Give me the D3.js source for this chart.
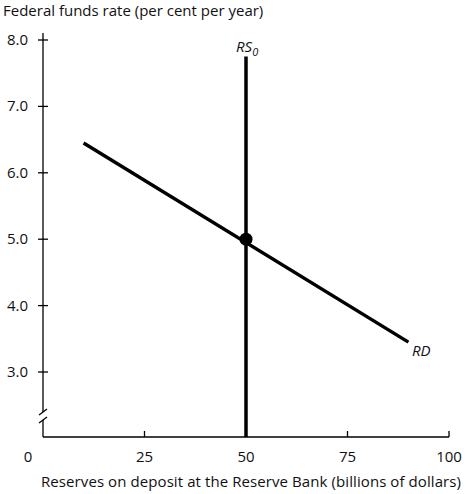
<!DOCTYPE html>
<html>
<head>
<meta charset="utf-8" />
<script src="https://cdnjs.cloudflare.com/ajax/libs/d3/7.8.5/d3.min.js"></script>
<style>
  html, body { margin: 0; background: #fff; }
  text { font-family: "Open Sans", "DejaVu Sans", sans-serif; font-size: 15px; fill: #111; }
</style>
</head>
<body>
<div id="chart"></div>
<script>
var xTicks = [25, 50, 75, 100];
var yTicks = [3.0, 4.0, 5.0, 6.0, 7.0, 8.0];
var rdPoints = [[10, 6.45], [90, 3.45]];
var rsTop = 7.75;
var equilibrium = [50, 5.0];

var svg = d3.select('#chart').append('svg').attr('width', 467).attr('height', 494);
var x = d3.scaleLinear().domain([0, 100]).range([43, 449]);
var y = d3.scaleLinear().domain([3, 8]).range([372, 40]);
var y0 = 437;

var g = svg.append('g').attr('stroke', '#000').attr('stroke-width', 1.3);
// axes
g.append('line').attr('x1', x(0)).attr('x2', x(100)).attr('y1', y0).attr('y2', y0);
g.append('line').attr('x1', x(0)).attr('x2', x(0)).attr('y1', y0).attr('y2', 420);
g.append('line').attr('x1', x(0)).attr('x2', x(0)).attr('y1', 412).attr('y2', 33);
// axis break
[420, 412].forEach(function (yy) {
  g.append('line').attr('x1', x(0) - 4).attr('x2', x(0) + 4).attr('y1', yy + 3).attr('y2', yy - 3);
});
yTicks.forEach(function (v) {
  g.append('line').attr('x1', x(0) - 5).attr('x2', x(0) + 5).attr('y1', y(v)).attr('y2', y(v));
  svg.append('text').attr('x', 28).attr('y', y(v) + 5).attr('text-anchor', 'end').text(v.toFixed(1));
});
xTicks.forEach(function (v) {
  g.append('line').attr('x1', x(v)).attr('x2', x(v)).attr('y1', y0).attr('y2', y0 - 6);
  svg.append('text').attr('x', x(v)).attr('y', 462).attr('text-anchor', 'middle').text(v);
});
svg.append('text').attr('x', 28).attr('y', 462).attr('text-anchor', 'middle').text('0');

svg.append('path').attr('d', d3.line().x(function (d) { return x(d[0]); }).y(function (d) { return y(d[1]); })(rdPoints))
  .attr('stroke', '#000').attr('stroke-width', 3.5).attr('fill', 'none');
svg.append('line').attr('x1', x(50)).attr('x2', x(50))
  .attr('y1', y0).attr('y2', y(rsTop))
  .attr('stroke', '#000').attr('stroke-width', 3.5);
svg.append('circle').attr('cx', x(equilibrium[0])).attr('cy', y(equilibrium[1])).attr('r', 6.5).attr('fill', '#000');

var rs = svg.append('text').attr('x', x(50) - 10).attr('y', 52).attr('font-style', 'italic');
rs.append('tspan').text('RS');
rs.append('tspan').attr('font-size', '11px').attr('dy', 4).text('0');
svg.append('text').attr('x', 412).attr('y', 356).attr('font-style', 'italic').text('RD');

svg.append('text').attr('x', 3).attr('y', 16).text('Federal funds rate (per cent per year)');
svg.append('text').attr('x', 41).attr('y', 487).attr('textLength', 420).text('Reserves on deposit at the Reserve Bank (billions of dollars)');
</script>
</body>
</html>
